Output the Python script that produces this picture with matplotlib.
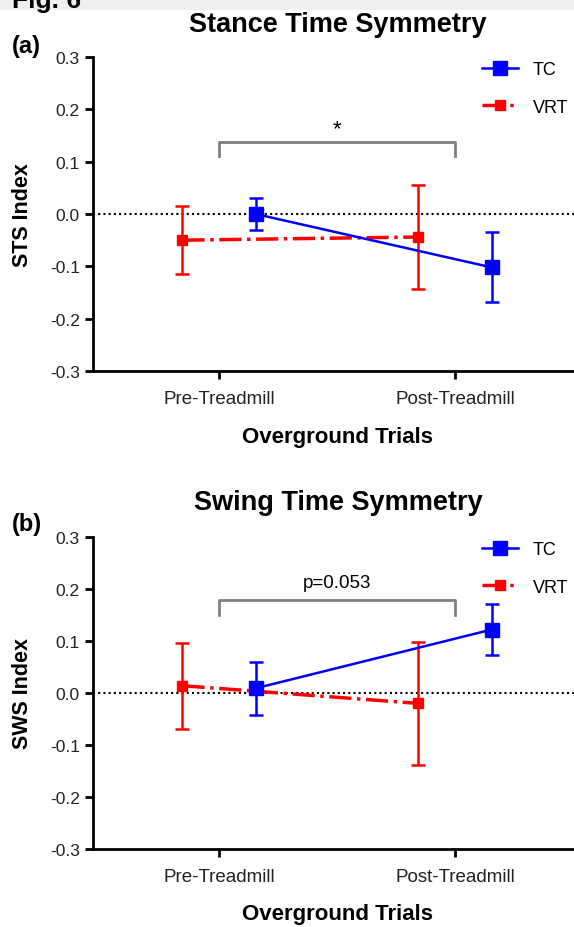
import numpy as np
import matplotlib
matplotlib.use('Agg')
import matplotlib.pyplot as plt
from matplotlib.lines import Line2D
from matplotlib.patches import Rectangle

plt.rcParams['font.family'] = ['Liberation Sans', 'DejaVu Sans']

# categories and values
trials = ['Pre-Treadmill', 'Post-Treadmill']
sts_tc = [0.0, -0.102]
sts_tc_err = [0.03, 0.067]
sts_vrt = [-0.05, -0.044]
sts_vrt_err = [0.065, 0.099]
sws_tc = [0.009, 0.122]
sws_tc_err = [0.051, 0.049]
sws_vrt = [0.014, -0.02]
sws_vrt_err = [0.083, 0.119]
yticks = [-0.3, -0.2, -0.1, 0.0, 0.1, 0.2, 0.3]

W, H = 574, 928
fig = plt.figure(figsize=(W / 100, H / 100), dpi=100)
# light grey strip at the very top (cut page header)
fig.patches.append(Rectangle((0, 1 - 11 / H), 1, 11 / H, transform=fig.transFigure,
                             facecolor='#efefef', edgecolor='none', zorder=0))
ax1 = fig.add_axes([93 / W, 1 - 372 / H, 481 / W, 314 / H])
ax2 = fig.add_axes([93 / W, 1 - 850 / H, 481 / W, 312 / H])

x = np.arange(len(trials))
off = 0.155


def panel(ax, tc, tc_err, vrt, vrt_err, ylab):
    ax.axhline(0, color='black', ls=(0, (1, 1.5)), lw=1.5, zorder=1)
    ax.errorbar(x + off, tc, yerr=tc_err, color='blue', marker='s', ms=10,
                lw=1.8, capsize=5, capthick=1.8, elinewidth=1.8, zorder=3)
    ax.errorbar(x - off, vrt, yerr=vrt_err, color='red', marker='s', ms=7,
                lw=2.5, ls='-.', capsize=5, capthick=1.8, elinewidth=1.8, zorder=2)
    ax.set_xlim(-0.534, 1.504)
    ax.set_ylim(-0.3, 0.3)
    ax.set_yticks(yticks)
    ax.set_yticklabels(['%.1f' % v for v in yticks], fontsize=12.5, color='#222222')
    ax.set_xticks(x)
    ax.set_xticklabels(trials, fontsize=13.5, color='#222222')
    for s in ['top', 'right']:
        ax.spines[s].set_visible(False)
    for s in ['left', 'bottom']:
        ax.spines[s].set_linewidth(2)
    ax.tick_params(width=2, length=6, direction='out')
    ax.tick_params(axis='x', pad=8)
    ax.set_ylabel(ylab, fontsize=15.5, fontweight='bold')
    ax.yaxis.set_label_coords(-0.124, 0.5)
    handles = [Line2D([], [], color='blue', marker='s', ms=10, lw=1.8),
               Line2D([], [], color='red', marker='s', ms=7, lw=2.5, ls='-.')]
    ax.legend(handles, ['TC', 'VRT'], loc='upper right', bbox_to_anchor=(1.01, 1.022),
              frameon=False, fontsize=13, handlelength=2.0, labelspacing=1.15,
              handletextpad=0.8, borderaxespad=0.2)
    return ax


panel(ax1, sts_tc, sts_tc_err, sts_vrt, sts_vrt_err, 'STS Index')
panel(ax2, sws_tc, sws_tc_err, sws_vrt, sws_vrt_err, 'SWS Index')

# titles, panel tags and x labels
fig.text(338 / W, 1 - 25 / H, 'Stance Time Symmetry', fontsize=19.5, fontweight='bold',
         ha='center', va='center')
fig.text(338 / W, 1 - 503 / H, 'Swing Time Symmetry', fontsize=19.5, fontweight='bold',
         ha='center', va='center')
fig.text(12 / W, 1 - 46 / H, '(a)', fontsize=17, fontweight='bold', va='center')
fig.text(12 / W, 1 - 524 / H, '(b)', fontsize=17, fontweight='bold', va='center')
fig.text(337 / W, 1 - 437 / H, 'Overground Trials', fontsize=16, fontweight='bold',
         ha='center', va='center')
fig.text(337 / W, 1 - 915 / H, 'Overground Trials', fontsize=16, fontweight='bold',
         ha='center', va='center')
fig.text(12 / W, 1 - 1 / H, 'Fig. 6', fontsize=19, fontweight='bold', va='center')

# significance brackets
ax1.plot([0, 0, 1, 1], [0.11, 0.137, 0.137, 0.11], color='gray', lw=2)
ax1.text(0.5, 0.143, '*', ha='center', va='bottom', fontsize=16)
ax2.plot([0, 0, 1, 1], [0.15, 0.178, 0.178, 0.15], color='gray', lw=2)
ax2.text(0.5, 0.196, 'p=0.053', ha='center', va='bottom', fontsize=13.5)

fig.savefig('out.png', dpi=100)
